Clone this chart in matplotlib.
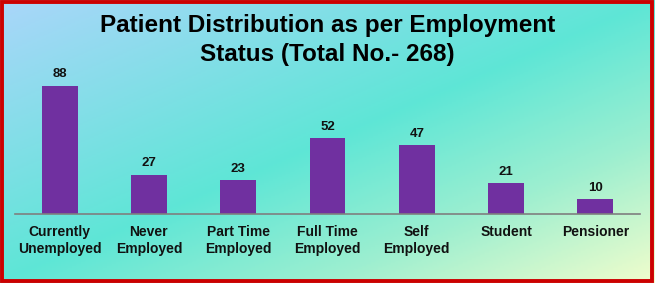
import numpy as np
import matplotlib.pyplot as plt
from matplotlib.colors import LinearSegmentedColormap
from matplotlib.patches import Rectangle

categories = ["Currently\nUnemployed", "Never\nEmployed", "Part Time\nEmployed",
              "Full Time\nEmployed", "Self\nEmployed", "Student", "Pensioner"]
patients = [88, 27, 23, 52, 47, 21, 10]
title = "Patient Distribution as per Employment\nStatus (Total No.- 268)"

plt.rcParams['font.family'] = ['Liberation Sans', 'DejaVu Sans']

W, H = 655, 283
fig = plt.figure(figsize=(W / 100, H / 100), dpi=100)

# diagonal background gradient
bg = fig.add_axes([0, 0, 1, 1], zorder=0)
xx, yy = np.meshgrid(np.linspace(0, 1, 300), np.linspace(0, 1, 150))
t = 0.5 * xx + 0.5 * yy
cmap = LinearSegmentedColormap.from_list(
    "bg", [(0.0, "#aad6fa"), (0.5, "#5ee6d6"), (0.75, "#9eefd0"), (1.0, "#f0fdcc")])
bg.imshow(t, cmap=cmap, aspect="auto", extent=[0, 1, 0, 1], origin="upper", vmin=0, vmax=1)
bg.set_xlim(0, 1)
bg.set_ylim(0, 1)
bg.axis("off")
bg.add_patch(Rectangle((0.003, 0.006), 0.992, 0.986, fill=False, edgecolor="#cc0000",
                       linewidth=2.8, transform=bg.transAxes))

ax = fig.add_axes([15 / W, (H - 214) / H, 625 / W, 146 / H], zorder=1)
ax.patch.set_alpha(0)
x = np.arange(len(categories))
bars = ax.bar(x, patients, width=0.4, color="#7030a0")
for b, v in zip(bars, patients):
    ax.annotate(str(v), (b.get_x() + b.get_width() / 2, v), xytext=(0, 4),
                textcoords="offset points", ha="center", va="bottom",
                fontsize=9.5, fontweight="bold", color="#111111")
ax.set_xlim(-0.5, len(categories) - 0.5)
ax.set_ylim(0, 100)
ax.set_xticks(x)
ax.set_xticklabels(categories, fontsize=10, fontweight="bold", color="#111111", linespacing=1.25)
ax.tick_params(axis="x", length=0, pad=8)
ax.set_yticks([])
for s in ["top", "left", "right"]:
    ax.spines[s].set_visible(False)
ax.spines["bottom"].set_color("#7f7f7f")
ax.spines["bottom"].set_linewidth(1.2)

fig.text(0.5, 1 - 40 / H, title, ha="center", va="center", fontsize=17.5,
         fontweight="bold", color="black", linespacing=1.3)

fig.savefig("out.png", dpi=100)
